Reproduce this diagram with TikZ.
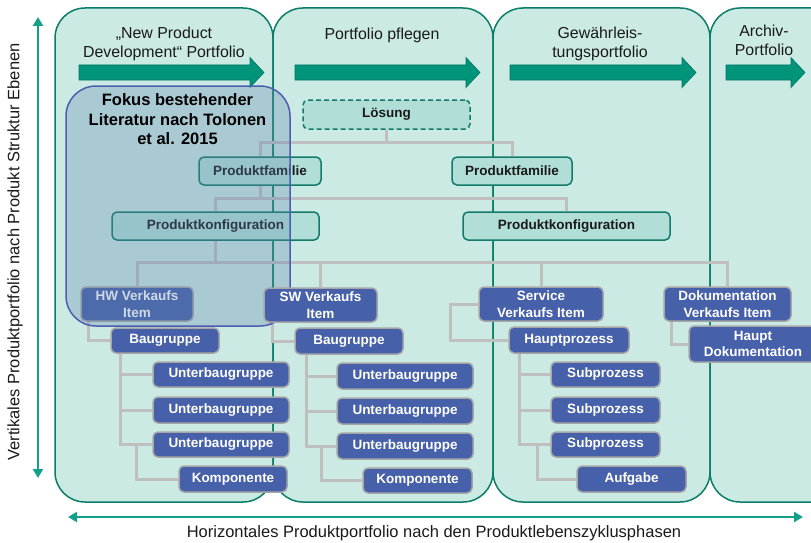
\documentclass[tikz,border=0pt]{standalone}
\usepackage{fontspec}
\setmainfont{Liberation Sans}
\usetikzlibrary{arrows.meta,calc}
\pgfdeclarelayer{panels}
\pgfdeclarelayer{lines}
\pgfdeclarelayer{over}
\pgfdeclarelayer{top}
\pgfsetlayers{panels,lines,main,over,top}
\definecolor{mint}{HTML}{CCEAE4}
\definecolor{panelline}{HTML}{0B7E69}
\definecolor{arrowgreen}{HTML}{00947A}
\definecolor{axisgreen}{HTML}{13A08A}
\definecolor{tealfill}{HTML}{B1DFD8}
\definecolor{tealline}{HTML}{127B6A}
\definecolor{boxblue}{HTML}{4661AA}
\definecolor{boxgrey}{HTML}{A6A6A6}
\definecolor{congrey}{HTML}{BFBFBF}
\definecolor{focusfill}{HTML}{5E83AF}
\definecolor{focusline}{HTML}{4A5EAD}
\definecolor{txt}{HTML}{1A1A1A}
\newcommand{\blkarrow}[3]{\filldraw[barrow] (#1,65) -- (#2,65) -- (#2,57.5) -- (#3,72.5) -- (#2,87.5) -- (#2,80) -- (#1,80) -- cycle;}
\tikzset{
  panel/.style={fill=mint, draw=panelline, line width=1.5pt, rounded corners=30pt},
  barrow/.style={fill=arrowgreen, draw=arrowgreen!80!black, line width=0.6pt},
  axis/.style={draw=axisgreen, line width=2.6pt, {Triangle[length=9pt,width=10pt]}-{Triangle[length=9pt,width=10pt]}},
  title/.style={align=center, text=txt, inner sep=0pt, font=\fontsize{15.9}{19}\selectfont},
  axislabel/.style={text=txt, inner sep=0pt, font=\fontsize{16.5}{19}\selectfont},
  tbox/.style={draw=tealline, fill=tealfill, line width=1.5pt, rounded corners=5pt, inner sep=0pt, align=center, text=txt, font=\fontsize{13.5}{16.5}\selectfont\bfseries},
  bbox/.style={draw=boxgrey, fill=boxblue, line width=1.5pt, rounded corners=5pt, inner sep=0pt, align=center, text=white, font=\fontsize{13.5}{16.5}\selectfont\bfseries},
  con/.style={draw=congrey, line width=3pt},
  focus/.style={fill=focusfill, fill opacity=0.3, draw=focusline, draw opacity=1, line width=1.5pt, rounded corners=30pt},
  focustext/.style={align=center, text=black, inner sep=0pt, font=\fontsize{16.5}{19.5}\selectfont\bfseries}
}
\begin{document}
\begin{tikzpicture}[x=1pt,y=-1pt]
\useasboundingbox (0,0) rectangle (811,543);

% ---------- panels, arrows, titles ----------
\begin{pgfonlayer}{panels}
\begin{scope}
\clip (0,0) rectangle (811,543);
\draw[panel] (55,8) rectangle (273,502);
\draw[panel] (273,8) rectangle (493,502);
\draw[panel] (493,8) rectangle (710,502);
\draw[panel] (710,8) rectangle (850,502);
\end{scope}
\blkarrow{79}{250}{264}
\blkarrow{295}{466}{480}
\blkarrow{510}{682}{696}
\blkarrow{726}{791}{805}
\end{pgfonlayer}

\node[title] (t1) at (164,44) {„New Product\\Development“ Portfolio};
\node[title] (t2) at (382,35) {Portfolio pflegen};
\node[title] (t3) at (600,44) {Gewährleis-\\tungsportfolio};
\node[title] (t4) at (764,40) {Archiv-\\Portfolio};

% ---------- axes ----------
\coordinate (vtop) at (38,17);
\coordinate (vbot) at (38,478);
\coordinate (hleft) at (68,517);
\coordinate (hright) at (803,517);
\draw[axis] (vtop) -- (vbot);
\draw[axis] (hleft) -- (hright);
\node[axislabel, rotate=90] (vlabel) at (15,252) {Vertikales Produktportfolio nach Produkt Struktur Ebenen};
\node[axislabel] (hlabel) at (434,533) {Horizontales Produktportfolio nach den Produktlebenszyklusphasen};

% ---------- nodes ----------
\node[tbox, dashed, dash pattern=on 5pt off 3pt, minimum width=167pt, minimum height=29pt] (loesung) at (386.5,114.5) {Lösung};
\node[tbox, minimum width=122pt, minimum height=28pt] (pf1) at (260,171) {Produktfamilie};
\node[tbox, minimum width=120pt, minimum height=28pt] (pf2) at (512,171) {Produktfamilie};
\node[tbox, minimum width=207pt, minimum height=28pt] (pk1) at (215.5,226) {Produktkonfiguration};
\node[tbox, minimum width=207pt, minimum height=28pt] (pk2) at (566.5,226) {Produktkonfiguration};

\node[bbox, minimum width=112pt, minimum height=34pt] (hw) at (137,304) {HW Verkaufs\\Item};
\node[bbox, minimum width=124pt, minimum height=34pt] (service) at (541,304) {Service\\Verkaufs Item};
\node[bbox, minimum width=127pt, minimum height=34pt] (doku) at (727.5,304) {Dokumentation\\Verkaufs Item};

\node[bbox, minimum width=108pt, minimum height=25pt] (bg1) at (165,340.5) {Baugruppe};
\node[bbox, minimum width=108pt, minimum height=26pt] (bg2) at (349,341) {Baugruppe};
\node[bbox, minimum width=120pt, minimum height=26pt] (hp) at (569,340) {Hauptprozess};
\begin{scope}
\clip (0,0) rectangle (811,543);
\node[bbox, minimum width=128pt, minimum height=36pt] (hd) at (753,344) {Haupt\\Dokumentation};
\end{scope}

\node[bbox, minimum width=136pt, minimum height=25pt] (u11) at (221,374.5) {Unterbaugruppe};
\node[bbox, minimum width=136pt, minimum height=26pt] (u12) at (221,410) {Unterbaugruppe};
\node[bbox, minimum width=136pt, minimum height=25pt] (u13) at (221,444.5) {Unterbaugruppe};
\node[bbox, minimum width=108pt, minimum height=26pt] (k1) at (233,479) {Komponente};

\node[bbox, minimum width=136pt, minimum height=26pt] (u21) at (405,376) {Unterbaugruppe};
\node[bbox, minimum width=136pt, minimum height=26pt] (u22) at (405,411) {Unterbaugruppe};
\node[bbox, minimum width=136pt, minimum height=26pt] (u23) at (405,446) {Unterbaugruppe};
\node[bbox, minimum width=109pt, minimum height=25pt] (k2) at (417.5,480.5) {Komponente};

\node[bbox, minimum width=109pt, minimum height=25pt] (s1) at (605.5,374.5) {Subprozess};
\node[bbox, minimum width=109pt, minimum height=26pt] (s2) at (605.5,410) {Subprozess};
\node[bbox, minimum width=109pt, minimum height=25pt] (s3) at (605.5,444.5) {Subprozess};
\node[bbox, minimum width=109pt, minimum height=26pt] (auf) at (631.5,479) {Aufgabe};

% ---------- focus overlay ----------
\begin{pgfonlayer}{over}
\draw[focus] (66,86) rectangle (290,326);
\end{pgfonlayer}
\begin{pgfonlayer}{top}
\node[focustext] (ft) at (177.5,119.5) {Fokus bestehender\\Literatur nach Tolonen\\et al. 2015};
\node[bbox, minimum width=113pt, minimum height=34pt] (sw) at (320.5,305) {SW Verkaufs\\Item};
\end{pgfonlayer}

% ---------- connectors ----------
\coordinate (bus) at (0,262);
\begin{pgfonlayer}{lines}
\draw[con] (loesung.south) |- ([yshift=14pt]pf1.north) -- (pf1.north);
\draw[con] (loesung.south) |- ([yshift=14pt]pf2.north) -- (pf2.north);
\draw[con] (pf1.south) |- ([yshift=13pt]pk1.north) -- (pk1.north);
\draw[con] (pf1.south) |- ([yshift=13pt]pk2.north) -- (pk2.north);
\draw[con] (pk1.south) |- (bus -| hw.north) -- (hw.north);
\draw[con] (pk1.south) |- (bus -| sw.north) -- (sw.north);
\draw[con] (pk1.south) |- (bus -| service.north) -- (service.north);
\draw[con] (pk1.south) |- (bus -| doku.north) -- (doku.north);

\draw[con] ([xshift=8pt]hw.south west) |- (bg1.west);
\draw[con] ([xshift=9pt]sw.south west) |- (bg2.west);
\draw[con] (service.west) -- ++(-28,0) |- (hp.west);
\draw[con] ([xshift=8pt]doku.south west) |- (hd.west);

\draw[con] ([xshift=10pt]bg1.south west) |- (u11.west);
\draw[con] ([xshift=10pt]bg1.south west) |- (u12.west);
\draw[con] ([xshift=10pt]bg1.south west) |- (u13.west);
\draw[con] ($(u13.west)+(-16,0)$) |- (k1.west);

\draw[con] ([xshift=12pt]bg2.south west) |- (u21.west);
\draw[con] ([xshift=12pt]bg2.south west) |- (u22.west);
\draw[con] ([xshift=12pt]bg2.south west) |- (u23.west);
\draw[con] ($(u23.west)+(-15,0)$) |- (k2.west);

\draw[con] ([xshift=11pt]hp.south west) |- (s1.west);
\draw[con] ([xshift=11pt]hp.south west) |- (s2.west);
\draw[con] ([xshift=11pt]hp.south west) |- (s3.west);
\draw[con] ($(s3.west)+(-13,0)$) |- (auf.west);
\end{pgfonlayer}
\end{tikzpicture}
\end{document}
